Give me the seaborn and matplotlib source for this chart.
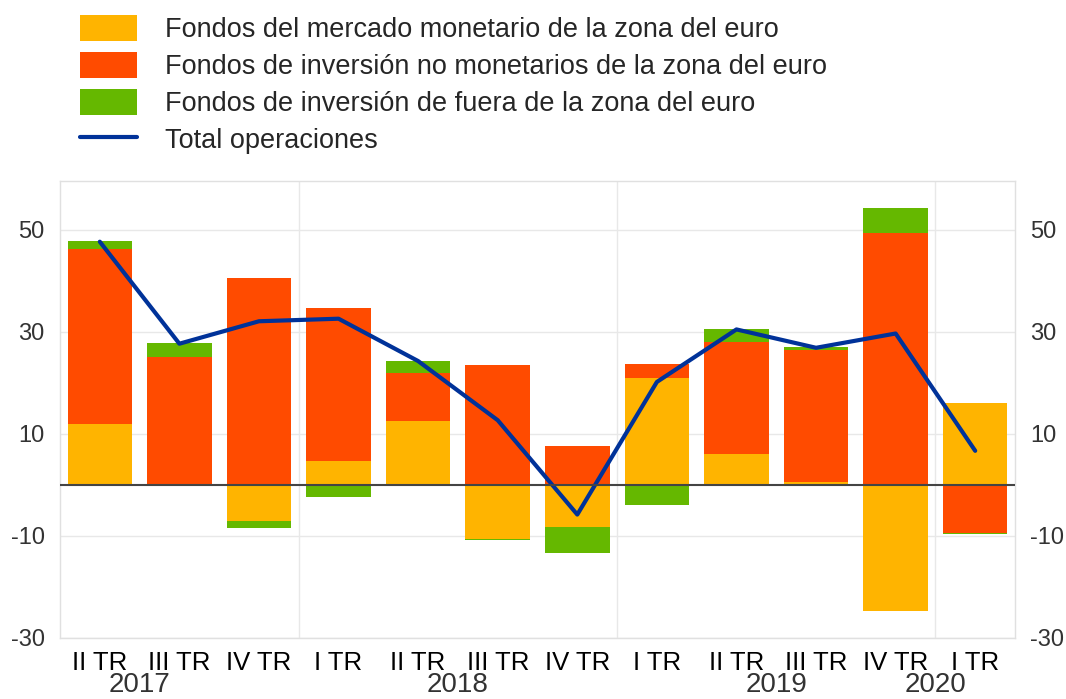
import numpy as np
import pandas as pd
import seaborn as sb
import matplotlib.pyplot as plt
from matplotlib.patches import Patch
from matplotlib.lines import Line2D

# ##############################################################################
# data (bn EUR)
quarters = ['II TR', 'III TR', 'IV TR', 'I TR', 'II TR', 'III TR',
            'IV TR', 'I TR', 'II TR', 'III TR', 'IV TR', 'I TR']
years = ['2017', '2018', '2019', '2020']
year_pos = [0.5, 4.5, 8.5, 10.5]

monetary = [11.9, 0.0, -7.1, 4.7, 12.5, -10.5, -8.2, 20.9, 6.1, 0.6, -24.7, 16.1]
non_monetary = [34.4, 25.1, 40.6, 30.0, 9.4, 23.5, 7.7, 2.9, 21.9, 25.9, 49.5, -9.4]
non_euro = [1.6, 2.8, -1.3, -2.3, 2.4, -0.3, -5.2, -3.9, 2.5, 0.6, 4.9, -0.3]
total = [47.7, 27.7, 32.1, 32.6, 24.3, 12.7, -5.8, 20.2, 30.5, 26.9, 29.7, 6.7]

labels = ['Fondos del mercado monetario de la zona del euro',
          'Fondos de inversión no monetarios de la zona del euro',
          'Fondos de inversión de fuera de la zona del euro',
          'Total operaciones']
colors = ['#FFB400', '#FF4B00', '#65B800']
line_color = '#003299'

# ##############################################################################
sb.set_style('white')
plt.rcParams['font.family'] = ['Liberation Sans', 'DejaVu Sans']
plt.rcParams['axes.unicode_minus'] = False

fig = plt.figure(figsize=(10.66, 6.99), dpi=100)
ax = fig.add_axes([60/1066, 1-638/699, 955/1066, 457/699])

df = pd.DataFrame({'idx': np.arange(len(quarters)), 'total': total})

# stacked bars, positives up and negatives down
pos_bottom = np.zeros(len(quarters))
neg_bottom = np.zeros(len(quarters))
for series, col in zip([monetary, non_monetary, non_euro], colors):
  vals = np.array(series)
  bottoms = np.where(vals >= 0, pos_bottom, neg_bottom)
  sb.barplot(x=df['idx'], y=vals, bottom=bottoms, color=col,
             width=0.81, saturation=1, linewidth=0, ax=ax, native_scale=True)
  pos_bottom += np.clip(vals, 0, None)
  neg_bottom += np.clip(vals, None, 0)

sb.lineplot(data=df, x='idx', y='total', color=line_color, linewidth=3, ax=ax)

# grid, zero line, year separators
yticks = [-30, -10, 10, 30, 50]
for yt in yticks:
  ax.axhline(yt, color='#e8e8e8', linewidth=1, zorder=0)
for xv in [2.5, 6.5, 10.5]:
  ax.axvline(xv, color='#e8e8e8', linewidth=1, zorder=0)
ax.axhline(0, color='#444444', linewidth=1.5, zorder=3)

ax.set_xlim(-0.5, 11.5)
ax.set_ylim(-30, 59.6)
ax.set_yticks(yticks)
ax.set_xticks(np.arange(len(quarters)))
ax.set_xticklabels(quarters)
ax.set_xlabel('')
ax.set_ylabel('')
ax.tick_params(axis='y', length=0, labelsize=17, labelcolor='#333333',
               pad=11, labelright=True)
ax.tick_params(axis='x', length=5, color='#d8d8d8', labelsize=18.5,
               labelcolor='black', pad=4)
for sp in ax.spines.values():
  sp.set_color('#e0e0e0')
  sp.set_linewidth(1)

for yr, xp in zip(years, year_pos):
  ax.text(xp, -0.103, yr, transform=ax.get_xaxis_transform(),
          ha='center', va='center', fontsize=20, color='#333333')

# legend above the plot
handles = [Patch(facecolor=c, edgecolor='none') for c in colors]
handles.append(Line2D([0], [0], color=line_color, linewidth=3))
fig.legend(handles, labels, loc='upper left', bbox_to_anchor=(80/1066, 1-15/699),
           frameon=False, fontsize=19.5, handlelength=2.1, handleheight=1.1,
           handletextpad=1.04, labelspacing=0.32, borderaxespad=0,
           borderpad=0)

fig.savefig('out.png', dpi=100)
plt.close('all')
